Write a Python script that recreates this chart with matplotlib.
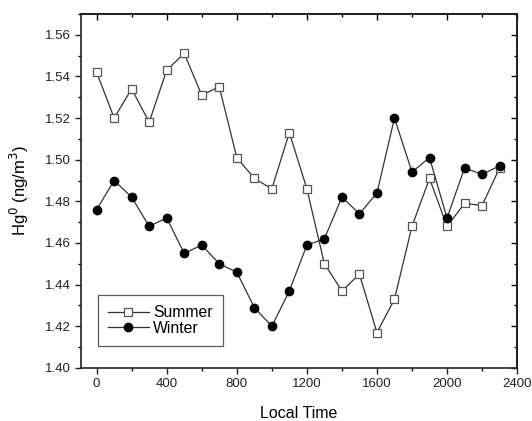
import numpy as np
import matplotlib.pyplot as plt
from matplotlib.ticker import MultipleLocator

plt.rcParams['font.family'] = ['Liberation Sans', 'DejaVu Sans']

hours = np.arange(0, 2400, 100)
summer = [1.542, 1.520, 1.534, 1.518, 1.543, 1.551, 1.531, 1.535,
          1.501, 1.491, 1.486, 1.513, 1.486, 1.450, 1.437, 1.445,
          1.417, 1.433, 1.468, 1.491, 1.468, 1.479, 1.478, 1.496]
winter = [1.476, 1.490, 1.482, 1.468, 1.472, 1.455, 1.459, 1.450,
          1.446, 1.429, 1.420, 1.437, 1.459, 1.462, 1.482, 1.474,
          1.484, 1.520, 1.494, 1.501, 1.472, 1.496, 1.493, 1.497]

fig = plt.figure(figsize=(5.32, 4.21), dpi=100)
ax = fig.add_axes([0.152, 0.126, 0.82, 0.841])

line_col = '#333333'
ax.plot(hours, summer, color=line_col, lw=0.9, marker='s', ms=5.2,
        mfc='white', mec='#555555', mew=0.9, label='Summer')
ax.plot(hours, winter, color=line_col, lw=0.9, marker='o', ms=6,
        mfc='black', mec='black', label='Winter')

ax.set_xlim(-90, 2400)
ax.set_ylim(1.40, 1.57)
ax.xaxis.set_major_locator(MultipleLocator(400))
ax.xaxis.set_minor_locator(MultipleLocator(200))
ax.yaxis.set_major_locator(MultipleLocator(0.02))
ax.yaxis.set_minor_locator(MultipleLocator(0.01))
ax.yaxis.set_major_formatter(plt.FormatStrFormatter('%.2f'))
ax.tick_params(which='major', direction='out', length=4.5, width=1,
               labelsize=9.5, colors='#222222', pad=3)
ax.tick_params(which='minor', direction='out', length=2.3, width=1)
for s in ax.spines.values():
    s.set_linewidth(1.2)
    s.set_color('#222222')

# mirrored ticks pointing inward on top and right
top = ax.secondary_xaxis('top')
top.xaxis.set_major_locator(MultipleLocator(400))
top.xaxis.set_minor_locator(MultipleLocator(200))
top.tick_params(which='major', direction='in', length=4, width=1,
                labelbottom=False, labeltop=False)
top.tick_params(which='minor', direction='in', length=2.3, width=1)
right = ax.secondary_yaxis('right')
right.yaxis.set_major_locator(MultipleLocator(0.02))
right.yaxis.set_minor_locator(MultipleLocator(0.01))
right.tick_params(which='major', direction='in', length=4, width=1,
                  labelleft=False, labelright=False)
right.tick_params(which='minor', direction='in', length=2.3, width=1)
for sec in (top, right):
    for s in sec.spines.values():
        s.set_linewidth(1.2)

ax.set_xlabel('Local Time', fontsize=11.5, labelpad=11)
ax.set_ylabel('Hg$^0$ (ng/m$^3$)', fontsize=12, labelpad=10)

leg = ax.legend(loc='lower left', bbox_to_anchor=(0.039, 0.062),
                borderaxespad=0, fontsize=11.3, frameon=True,
                fancybox=False, edgecolor='#333333', handlelength=2.6,
                borderpad=0.65, labelspacing=0.05, handletextpad=0.25)
leg.get_frame().set_linewidth(0.9)

fig.savefig('out.png', dpi=100)
